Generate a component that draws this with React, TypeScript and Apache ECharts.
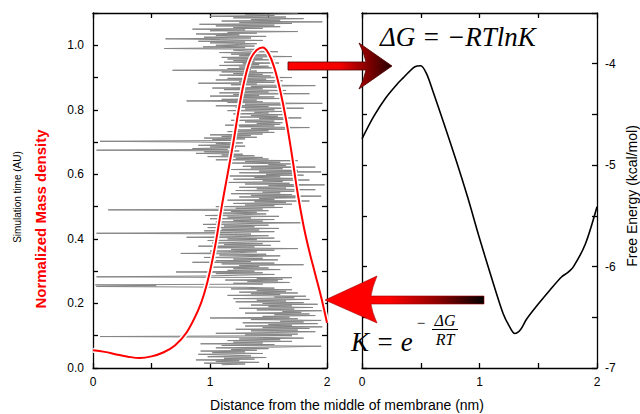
import React, { useEffect, useRef } from "react";
import * as echarts from "echarts";

// Gray trajectory: position (nm) at successive simulation frames (time in AU)
const traceTimeStart = 0.01;
const traceTimeStep = 0.0025;
const traceX = [
  1.10, 1.30, 0.95, 1.42, 1.05, 1.25, 0.88, 1.38, 1.12, 1.48,
  0.98, 1.35, 1.15, 0.90, 1.45, 1.02, 1.30, 0.92, 1.40, 1.18,
  1.50, 1.05, 1.62, 1.95, 1.10, 1.55, 0.92, 1.45, 1.20, 1.70,
  1.15, 1.60, 1.25, 1.80, 1.40, 0.06, 1.70, 1.30, 1.75, 1.05,
  1.55, 1.90, 1.35, 1.75, 1.22, 1.85, 1.45, 1.96, 1.30, 1.70,
  1.50, 1.92, 1.28, 1.80, 1.60, 1.95, 1.35, 1.75, 1.00, 1.68,
  1.45, 1.90, 1.55, 1.85, 1.30, 1.78, 1.62, 1.96, 1.40, 1.72,
  1.25, 1.88, 1.50, 1.70, 1.35, 1.92, 1.45, 1.80, 1.22, 1.65,
  1.40, 1.85, 1.20, 1.72, 1.55, 1.82, 1.15, 1.60, 1.35, 1.75,
  1.25, 1.65, 1.40, 1.70, 1.18, 1.55, 1.30, 0.03, 0.54, 0.02,
  1.45, 1.20, 1.68, 1.32, 1.58, 1.13, 1.62, 1.40, 1.70, 0.03,
  0.94, 1.25, 1.55, 1.05, 1.45, 0.71, 1.38, 1.15, 1.60, 1.20,
  1.50, 1.02, 1.42, 1.25, 1.80, 1.10, 1.55, 0.85, 1.35, 1.05,
  1.58, 1.20, 1.45, 0.95, 1.30, 1.60, 1.08, 1.48, 0.75, 1.25,
  1.40, 1.00, 1.55, 1.18, 1.75, 1.05, 1.38, 0.90, 1.52, 1.12,
  1.45, 1.02, 1.32, 1.60, 0.98, 1.40, 1.15, 1.55, 0.80, 1.28,
  1.50, 1.05, 1.35, 0.03, 1.20, 1.55, 0.95, 1.42, 1.10, 1.59,
  0.98, 1.38, 1.12, 1.50, 0.94, 1.30, 1.80, 1.05, 1.45, 1.20,
  1.55, 1.00, 1.35, 1.15, 1.59, 0.96, 1.28, 1.48, 1.08, 1.40,
  1.18, 1.50, 0.13, 1.45, 1.22, 1.62, 1.05, 1.55, 1.30, 1.70,
  1.20, 1.65, 1.38, 1.85, 1.15, 1.55, 1.42, 1.73, 1.25, 1.95,
  1.35, 1.70, 1.18, 1.60, 1.45, 1.72, 1.22, 1.90, 1.40, 1.65,
  1.25, 1.76, 1.50, 1.98, 1.30, 1.68, 1.15, 1.62, 1.45, 1.85,
  1.20, 1.72, 1.38, 1.60, 1.13, 1.80, 1.48, 1.70, 1.25, 1.95,
  1.42, 1.75, 1.18, 1.62, 1.35, 1.90, 1.28, 1.65, 1.50, 1.72,
  1.15, 1.60, 1.30, 1.75, 1.05, 1.50, 1.22, 1.45, 0.98, 1.38,
  1.10, 1.28, 0.88, 1.20, 0.95, 1.25, 0.03, 1.15, 0.85, 1.22,
  1.00, 1.30, 0.90, 1.18, 1.05, 1.28, 0.92, 0.06, 1.20, 1.02,
  1.30, 0.95, 1.40, 1.10, 1.35, 1.00, 1.45, 1.20, 1.55, 1.15,
  1.50, 1.20, 1.65, 1.35, 1.85, 1.25, 1.55, 1.13, 1.60, 1.40,
  1.62, 1.30, 1.55, 1.18, 1.65, 1.42, 1.78, 1.25, 1.58, 1.35,
  1.65, 1.20, 1.50, 1.38, 1.62, 1.15, 1.55, 1.30, 1.80, 1.22,
  1.50, 1.05, 1.65, 1.30, 1.96, 1.15, 1.45, 0.80, 1.40, 1.10,
  1.60, 1.25, 1.55, 1.00, 1.42, 1.20, 1.85, 1.08, 1.50, 1.30,
  1.65, 1.12, 1.45, 1.02, 1.58, 1.35, 1.90, 1.18, 1.40, 0.90,
  1.55, 1.25, 1.62, 1.05, 1.48, 1.15, 1.70, 1.30, 1.52, 1.08,
  1.45, 1.20, 1.58, 1.10, 1.40, 0.68, 1.35, 1.15, 1.55, 1.25,
  1.50, 1.08, 1.42, 1.28, 1.59, 1.12, 1.38, 1.20, 1.55, 1.15,
  1.45, 1.10, 1.70, 1.25, 1.52, 1.18, 1.40, 1.08, 1.58, 1.30,
  1.20, 1.42, 0.61, 1.30, 0.94, 1.38, 1.05, 1.25, 1.40, 1.00,
  1.30, 0.90, 1.45, 1.10, 0.62, 1.35, 0.95, 1.48, 1.05, 1.25,
  0.88, 1.40, 1.15, 1.75, 1.00, 1.30, 0.85, 1.45, 1.20, 1.60,
  1.05, 1.55, 0.91, 1.70, 1.25, 1.96, 1.10, 1.60, 1.35, 1.80,
  1.20, 1.65, 1.00, 1.55, 1.30, 1.75,
];

// Normalized mass density (red)
const densityX = [0, 0.1, 0.2, 0.3, 0.4, 0.5, 0.6, 0.7, 0.8, 0.9, 0.95, 1.0, 1.05, 1.1, 1.15, 1.2, 1.25, 1.3, 1.35, 1.4, 1.45, 1.5, 1.55, 1.6, 1.65, 1.7, 1.75, 1.8, 1.85, 1.9, 1.95, 2.0];
const densityY = [0.055, 0.05, 0.042, 0.035, 0.031, 0.036, 0.048, 0.07, 0.11, 0.18, 0.23, 0.3, 0.39, 0.5, 0.6, 0.7, 0.81, 0.9, 0.96, 0.985, 0.993, 0.975, 0.93, 0.86, 0.77, 0.66, 0.54, 0.44, 0.36, 0.29, 0.22, 0.14];

// Free energy (kcal/mol)
const energyX = [0, 0.1, 0.2, 0.3, 0.35, 0.4, 0.45, 0.5, 0.55, 0.6, 0.7, 0.8, 0.9, 1.0, 1.1, 1.2, 1.25, 1.3, 1.35, 1.4, 1.5, 1.6, 1.7, 1.75, 1.8, 1.9, 2.0];
const energyY = [-4.74, -4.52, -4.34, -4.2, -4.14, -4.08, -4.03, -4.02, -4.1, -4.26, -4.6, -4.95, -5.32, -5.72, -6.1, -6.46, -6.58, -6.66, -6.62, -6.52, -6.37, -6.23, -6.1, -6.06, -6.0, -5.78, -5.41];

const FONT = "'Liberation Sans', Arial, sans-serif";
const SERIF = "'Liberation Serif', 'Times New Roman', serif";

echarts.graphic.registerShape(
  "arrowRight",
  echarts.graphic.extendPath(
    "M288 62 L366 62 Q364 52 359 43 L392 66 L359 89 Q364 80 366 70 L288 70 Z",
    {}
  )
);
echarts.graphic.registerShape(
  "arrowLeft",
  echarts.graphic.extendPath(
    "M325 300 L377 276 Q372 288 371 296 L484 296 L484 304 L371 304 Q372 312 377 323 Z",
    {}
  )
);

const axisLineStyle = { color: "#000", width: 1.3 };

function xAxisFor(grid: number, pos: "bottom" | "top") {
  return {
    type: "value",
    gridIndex: grid,
    position: pos,
    min: 0,
    max: 2,
    interval: 0.5,
    axisLine: { show: true, onZero: false, lineStyle: axisLineStyle },
    axisTick: { show: true, inside: true, length: 5, lineStyle: axisLineStyle },
    axisLabel: {
      show: pos === "bottom",
      margin: 8,
      color: "#000",
      fontSize: 12,
      fontFamily: FONT,
      formatter: (v: number) => (Math.abs(v - Math.round(v)) < 1e-6 ? String(Math.round(v)) : ""),
    },
    splitLine: { show: false },
  };
}

export default function App() {
  const ref = useRef<HTMLDivElement>(null);
  useEffect(() => {
    document.body.style.margin = "0";
    if (!ref.current) return;
    const chart = echarts.init(ref.current, null, { renderer: "svg" });
    const trace = traceX.map((x, i) => [x, +(traceTimeStart + i * traceTimeStep).toFixed(4)]);
    const density = densityX.map((x, i) => [x, densityY[i]]);
    const energy = energyX.map((x, i) => [x, energyY[i]]);

    chart.setOption({
      animation: false,
      backgroundColor: "#fff",
      grid: [
        { left: 93, top: 13, width: 234, height: 355 },
        { left: 362, top: 13, width: 235, height: 355 },
      ],
      xAxis: [
        xAxisFor(0, "bottom"),
        xAxisFor(0, "top"),
        xAxisFor(1, "bottom"),
        xAxisFor(1, "top"),
      ],
      yAxis: [
        {
          type: "value",
          gridIndex: 0,
          position: "left",
          min: 0,
          max: 1.1,
          interval: 0.1,
          axisLine: { show: true, onZero: false, lineStyle: axisLineStyle },
          axisTick: { show: true, inside: true, length: 5, lineStyle: axisLineStyle },
          axisLabel: {
            margin: 9,
            color: "#000",
            fontSize: 12,
            fontFamily: FONT,
            formatter: (v: number) => (Math.round(v * 10) % 2 === 0 ? v.toFixed(1) : ""),
          },
          splitLine: { show: false },
        },
        {
          type: "value",
          gridIndex: 0,
          position: "right",
          min: 0,
          max: 1.1,
          interval: 0.1,
          axisLine: { show: true, onZero: false, lineStyle: axisLineStyle },
          axisTick: { show: true, inside: true, length: 5, lineStyle: axisLineStyle },
          axisLabel: { show: false },
          splitLine: { show: false },
        },
        {
          type: "value",
          gridIndex: 1,
          position: "left",
          min: -7,
          max: -3.5,
          interval: 0.5,
          axisLine: { show: true, onZero: false, lineStyle: axisLineStyle },
          axisTick: { show: true, inside: true, length: 5, lineStyle: axisLineStyle },
          axisLabel: { show: false },
          splitLine: { show: false },
        },
        {
          type: "value",
          gridIndex: 1,
          position: "right",
          min: -7,
          max: -3.5,
          interval: 0.5,
          axisLine: { show: true, onZero: false, lineStyle: axisLineStyle },
          axisTick: { show: true, inside: true, length: 5, lineStyle: axisLineStyle },
          axisLabel: {
            margin: 8,
            color: "#000",
            fontSize: 12,
            fontFamily: FONT,
            formatter: (v: number) => (Math.abs(v - Math.round(v)) < 1e-6 ? String(Math.round(v)) : ""),
          },
          splitLine: { show: false },
        },
      ],
      series: [
        {
          name: "trajectory",
          type: "line",
          xAxisIndex: 0,
          yAxisIndex: 0,
          data: trace,
          symbol: "none",
          sampling: undefined,
          lineStyle: { color: "#858585", width: 1 },
          z: 2,
        },
        {
          name: "density halo",
          type: "line",
          xAxisIndex: 0,
          yAxisIndex: 0,
          data: density,
          smooth: 0.4,
          symbol: "none",
          lineStyle: { color: "#ffffff", width: 5 },
          z: 3,
        },
        {
          name: "Normalized Mass density",
          type: "line",
          xAxisIndex: 0,
          yAxisIndex: 0,
          data: density,
          smooth: 0.4,
          symbol: "none",
          lineStyle: { color: "#ff0000", width: 2 },
          z: 4,
        },
        {
          name: "Free Energy",
          type: "line",
          xAxisIndex: 2,
          yAxisIndex: 3,
          data: energy,
          smooth: 0.3,
          symbol: "none",
          lineStyle: { color: "#000", width: 1.6 },
          z: 4,
        },
      ],
      graphic: [
        {
          type: "text",
          x: 347,
          y: 405,
          style: {
            text: "Distance from the middle of membrane (nm)",
            fontFamily: FONT,
            fontSize: 14,
            fill: "#000",
            textAlign: "center",
            textVerticalAlign: "middle",
          },
        },
        {
          type: "text",
          x: 17,
          y: 197,
          rotation: Math.PI / 2,
          style: {
            text: "Simulation time (AU)",
            fontFamily: FONT,
            fontSize: 10,
            fill: "#000",
            textAlign: "center",
            textVerticalAlign: "middle",
          },
        },
        {
          type: "text",
          x: 40,
          y: 219,
          rotation: Math.PI / 2,
          style: {
            text: "Normalized Mass density",
            fontFamily: FONT,
            fontSize: 15,
            fontWeight: "bold",
            fill: "#ff0000",
            textAlign: "center",
            textVerticalAlign: "middle",
          },
        },
        {
          type: "text",
          x: 632,
          y: 196,
          rotation: Math.PI / 2,
          style: {
            text: "Free Energy (kcal/mol)",
            fontFamily: FONT,
            fontSize: 14,
            fill: "#000",
            textAlign: "center",
            textVerticalAlign: "middle",
          },
        },
        {
          type: "text",
          x: 380,
          y: 37,
          z: 50,
          style: {
            text: "ΔG = −RTlnK",
            fontFamily: SERIF,
            fontStyle: "italic",
            fontSize: 27,
            fill: "#000",
            textAlign: "left",
            textVerticalAlign: "middle",
          },
        },
        {
          type: "text",
          x: 351,
          y: 342,
          z: 50,
          style: {
            text: "K = e",
            fontFamily: SERIF,
            fontStyle: "italic",
            fontSize: 27,
            fill: "#000",
            textAlign: "left",
            textVerticalAlign: "middle",
          },
        },
        {
          type: "text",
          x: 421,
          y: 323,
          z: 50,
          style: {
            text: "−",
            fontFamily: SERIF,
            fontSize: 15,
            fill: "#000",
            textAlign: "center",
            textVerticalAlign: "middle",
          },
        },
        {
          type: "text",
          x: 445,
          y: 320.5,
          z: 50,
          style: {
            text: "ΔG",
            fontFamily: SERIF,
            fontStyle: "italic",
            fontSize: 16,
            fill: "#000",
            textAlign: "center",
            textVerticalAlign: "middle",
          },
        },
        {
          type: "line",
          z: 50,
          shape: { x1: 432, y1: 329.5, x2: 458, y2: 329.5 },
          style: { stroke: "#000", lineWidth: 1 },
        },
        {
          type: "text",
          x: 445,
          y: 339.5,
          z: 50,
          style: {
            text: "RT",
            fontFamily: SERIF,
            fontStyle: "italic",
            fontSize: 16,
            fill: "#000",
            textAlign: "center",
            textVerticalAlign: "middle",
          },
        },
        {
          type: "arrowRight",
          x: 0,
          y: 0,
          z: 100,
          style: {
            fill: new echarts.graphic.LinearGradient(0, 0, 1, 0, [
              { offset: 0, color: "#ff0000" },
              { offset: 0.5, color: "#f20000" },
              { offset: 0.75, color: "#8a0000" },
              { offset: 1, color: "#250000" },
            ]),
            stroke: "#500000",
            lineWidth: 0.8,
          },
        },
        {
          type: "arrowLeft",
          x: 0,
          y: 0,
          z: 100,
          style: {
            fill: new echarts.graphic.LinearGradient(0, 0, 1, 0, [
              { offset: 0, color: "#ff0000" },
              { offset: 0.4, color: "#ff0000" },
              { offset: 0.7, color: "#900000" },
              { offset: 1, color: "#000000" },
            ]),
            stroke: "#a00000",
            lineWidth: 0.6,
          },
        },
      ],
    });
    return () => chart.dispose();
  }, []);
  return <div ref={ref} style={{ width: 640, height: 414 }} />;
}
